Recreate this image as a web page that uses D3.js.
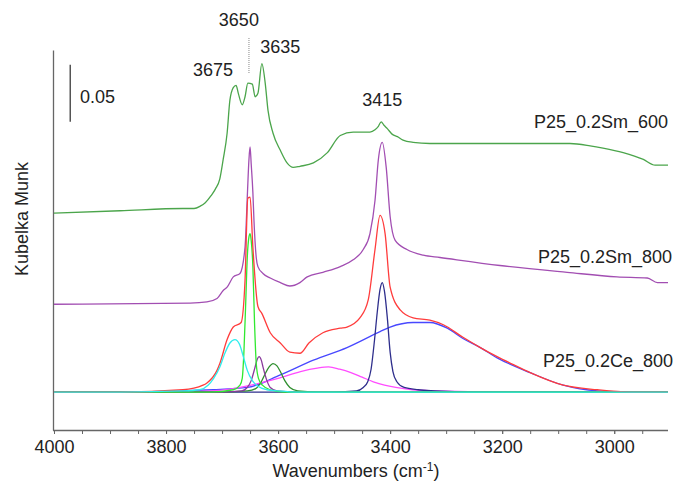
<!DOCTYPE html>
<html>
<head>
<meta charset="utf-8">
<script src="https://cdn.jsdelivr.net/npm/d3@7"></script>
<style>
  body { margin: 0; background: #fff; }
  svg text { font-family: "Liberation Sans", Arial, sans-serif; fill: #222; }
</style>
</head>
<body>
<div id="chart"></div>
<script>
// Spektre (bølgetal cm-1, Kubelka Munk)
const sm600 = [[4000,0.157],[3882,0.159],[3770,0.161],[3750,0.161],[3739,0.163],[3730,0.166],[3720,0.172],
  [3712,0.178],[3704,0.187],[3698,0.204],
  [3691,0.227],[3686,0.256],[3680,0.267],[3675,0.269],[3671,0.262],[3664,0.252],[3659,0.259],[3654,0.271],
  [3646,0.270],[3641,0.259],[3636,0.262],[3629,0.288],[3623,0.271],[3618,0.247],[3609,0.227],[3596,0.212],
  [3584,0.201],[3573,0.197],[3561,0.198],[3537,0.201],[3512,0.210],[3489,0.225],[3466,0.228],[3436,0.228],
  [3427,0.230],[3421,0.233],[3416,0.237],[3411,0.234],[3405,0.231],[3396,0.226],[3387,0.224],[3377,0.221],
  [3359,0.219],[3329,0.218],[3150,0.218],[3079,0.218],[3043,0.216],[3020,0.214],[2984,0.210],[2948,0.204],
  [2927,0.199],[2904,0.199]];

const sm800 = [[4000,0.077],[3757,0.078],[3727,0.079],[3709,0.082],[3698,0.089],[3691,0.092],[3680,0.101],
  [3668,0.104],[3659,0.127],[3655,0.171],[3652,0.204],[3650,0.215],[3648,0.200],[3645,0.175],[3643,0.150],
  [3639,0.118],[3636,0.110],[3627,0.104],[3614,0.100],[3596,0.096],[3579,0.093],[3561,0.096],[3548,0.101],
  [3520,0.105],[3489,0.110],[3466,0.116],[3448,0.125],[3436,0.139],[3427,0.168],[3421,0.204],[3414,0.219],
  [3407,0.197],[3400,0.154],[3391,0.133],[3370,0.125],[3341,0.120],[3311,0.118],[3204,0.111],[3084,0.105],
  [2995,0.101],[2941,0.100],[2923,0.096],[2904,0.096]];

const ce800 = [[4000,0.000],[3882,0.000],[3770,0.002],[3734,0.006],[3727,0.008],[3709,0.019],[3704,0.025],
  [3691,0.046],[3680,0.057],[3666,0.061],[3659,0.098],[3654,0.170],[3650,0.171],[3645,0.127],[3636,0.075],
  [3629,0.069],[3614,0.052],[3596,0.043],[3579,0.035],[3561,0.034],[3545,0.043],[3520,0.052],[3489,0.056],
  [3477,0.057],[3454,0.065],[3439,0.081],[3427,0.125],[3418,0.155],[3409,0.139],[3400,0.092],[3382,0.072],
  [3359,0.065],[3329,0.063],[3305,0.059],[3270,0.048],[3239,0.039],[3209,0.031],[3180,0.024],[3150,0.017],
  [3091,0.006],[3030,0.002],[2971,0.000],[2904,0.000]];

// Fit-komponenter for P25_0.2Ce_800
const fitBroad = [[4000,0],[3882,0],[3716,0.002],[3655,0.004],[3596,0.015],[3537,0.028],[3477,0.039],
  [3418,0.053],[3400,0.057],[3359,0.061],[3329,0.061],[3298,0.056],[3270,0.047],[3239,0.039],[3209,0.030],
  [3150,0.017],[3091,0.006],[3030,0.001],[2971,0],[2904,0]];
const fit3520 = [[4000,0],[3800,0],[3720,0.001],[3680,0.003],[3640,0.007],[3600,0.012],[3560,0.018],
  [3530,0.021],[3510,0.022],[3490,0.020],[3470,0.017],[3450,0.013],[3430,0.009],[3410,0.006],[3390,0.004],
  [3360,0.002],[3320,0.001],[3200,0],[2904,0]];
const fit3415 = [[4000,0],[3500,0],[3460,0.001],[3448,0.004],[3440,0.009],[3434,0.020],[3428,0.045],
  [3423,0.070],[3418,0.090],[3414,0.096],[3410,0.088],[3405,0.065],[3400,0.035],[3395,0.018],[3388,0.009],
  [3375,0.004],[3350,0.002],[3320,0.001],[3250,0],[2904,0]];
const fit3615 = [[4000,0],[3700,0],[3655,0.001],[3640,0.003],[3630,0.009],[3623,0.016],[3616,0.022],
  [3609,0.025],[3602,0.023],[3596,0.018],[3588,0.010],[3579,0.004],[3565,0.001],[3530,0],[2904,0]];
const fit3635 = [[4000,0],[3700,0],[3665,0.001],[3655,0.004],[3648,0.010],[3641,0.022],[3637,0.029],
  [3634,0.031],[3630,0.028],[3627,0.022],[3620,0.010],[3614,0.004],[3602,0.001],[3570,0],[2904,0]];
const fit3650 = [[4000,0],[3720,0],[3680,0.002],[3668,0.006],[3664,0.012],[3661,0.035],[3658,0.075],
  [3655,0.118],[3652,0.136],[3650,0.139],[3648,0.133],[3645,0.110],[3642,0.060],[3639,0.025],[3635,0.012],
  [3628,0.006],[3614,0.002],[3590,0],[2904,0]];
const fit3680 = [[4000,0],[3882,0],[3770,0.001],[3740,0.002],[3725,0.006],[3715,0.012],[3704,0.022],
  [3695,0.034],[3686,0.043],[3677,0.046],[3669,0.042],[3662,0.031],[3655,0.019],[3646,0.010],[3636,0.005],
  [3620,0.002],[3600,0.001],[3570,0],[2904,0]];

// Etiketter
const seriesNames = ["P25_0.2Sm_600", "P25_0.2Sm_800", "P25_0.2Ce_800"];
const peakLabels = ["3675", "3650", "3635", "3415"];
const majorTicks = [4000, 3800, 3600, 3400, 3200, 3000];
const minorTicks = d3.range(4000, 2900, -50);

const w = 677, h = 481;

const x = d3.scaleLinear().domain([4000, 2904]).range([54, 668]);
const y = d3.scaleLinear().domain([-0.0333, 0.3]).range([430, 50]);

const svg = d3.select("#chart").append("svg").attr("width", w).attr("height", h);

// Akser
const xMinor = svg.append("g").attr("transform", "translate(0,430)")
  .call(d3.axisBottom(x).tickValues(minorTicks).tickSize(4).tickFormat(""));
xMinor.select(".domain").remove();
xMinor.selectAll("line").attr("stroke", "#666");

const xAxis = svg.append("g").attr("transform", "translate(0,430)")
  .call(d3.axisBottom(x).tickValues(majorTicks).tickSize(4).tickSizeOuter(0).tickPadding(6).tickFormat(d3.format("d")));
xAxis.select(".domain").attr("stroke", "#666").attr("stroke-width", 1.3).attr("d", "M53,0.5H668");
xAxis.selectAll("line").attr("stroke", "#666");
xAxis.selectAll("text").style("font-size", "18px").attr("fill", "#222");

const yAxis = svg.append("g").attr("transform", "translate(53,0)")
  .call(d3.axisLeft(y).tickValues([]).tickSizeOuter(0));
yAxis.select(".domain").attr("stroke", "#666").attr("stroke-width", 1.3);

// Linjer
const line = d3.line().x(d => x(d[0])).y(d => y(d[1])).curve(d3.curveMonotoneX);

const curves = [
  { data: sm600, color: "#4ba54b" },
  { data: sm800, color: "#a24eb2" },
  { data: fitBroad, color: "#4848ff" },
  { data: fit3520, color: "#ff4cff" },
  { data: fit3415, color: "#2e2e8c" },
  { data: fit3615, color: "#2f8f2f" },
  { data: fit3635, color: "#8a3b9c" },
  { data: fit3650, color: "#30e830" },
  { data: ce800, color: "#ff3c3c" },
  { data: fit3680, color: "#30ecec" }
];

svg.selectAll("path.curve")
  .data(curves)
  .enter()
  .append("path")
  .attr("class", "curve")
  .attr("d", d => line(d.data))
  .attr("fill", "none")
  .attr("stroke", d => d.color)
  .attr("stroke-width", 1.3);

// Serienavne
const nameY = [0.232, 0.113, 0.022];
svg.selectAll("text.series")
  .data(seriesNames)
  .enter()
  .append("text")
  .attr("class", "series")
  .attr("x", (d, i) => [668, 672, 673][i])
  .attr("y", (d, i) => y(nameY[i]))
  .attr("text-anchor", "end")
  .style("font-size", "18px")
  .text(d => d);

// Toptal
const peakPos = [[3716, 76], [3670, 26], [3596, 53], [3414, 106]];
svg.selectAll("text.peak")
  .data(peakLabels)
  .enter()
  .append("text")
  .attr("class", "peak")
  .attr("x", (d, i) => x(peakPos[i][0]))
  .attr("y", (d, i) => peakPos[i][1])
  .attr("text-anchor", "middle")
  .style("font-size", "18px")
  .text(d => d);

// Stiplet markering ved 3650
svg.append("line")
  .attr("x1", x(3652)).attr("x2", x(3652))
  .attr("y1", 38).attr("y2", 73)
  .attr("stroke", "#888")
  .attr("stroke-width", 1)
  .attr("stroke-dasharray", "1,1");

// Skalabjælke 0.05
svg.append("line")
  .attr("x1", x(3971)).attr("x2", x(3971))
  .attr("y1", y(0.287)).attr("y2", y(0.237))
  .attr("stroke", "#555")
  .attr("stroke-width", 1.5);
svg.append("text")
  .attr("x", 80)
  .attr("y", 103)
  .style("font-size", "18px")
  .text("0.05");

// Aksetitler
svg.append("text")
  .attr("transform", "translate(28,219) rotate(-90)")
  .attr("text-anchor", "middle")
  .style("font-size", "18px")
  .text("Kubelka Munk");

const xt = svg.append("text")
  .attr("x", 356)
  .attr("y", 477)
  .attr("text-anchor", "middle")
  .style("font-size", "18px");
xt.append("tspan").text("Wavenumbers (cm");
xt.append("tspan").attr("dy", -6).style("font-size", "12px").text("-1");
xt.append("tspan").attr("dy", 6).text(")");
</script>
</body>
</html>
